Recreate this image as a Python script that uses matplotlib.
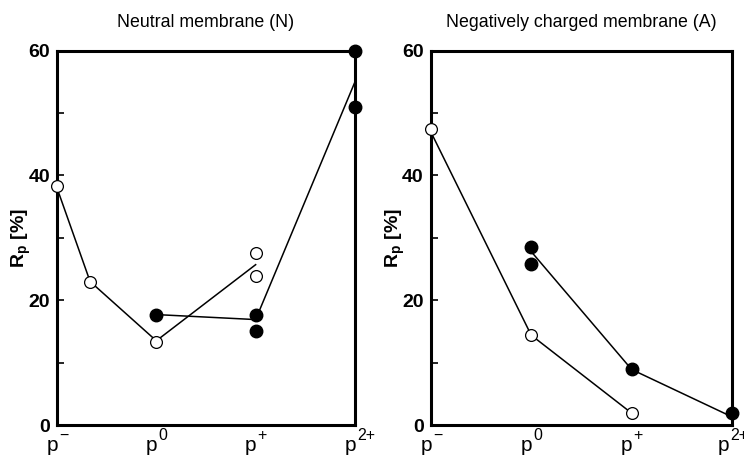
import matplotlib.pyplot as plt
import numpy as np

plt.rcParams['font.family'] = ['Liberation Sans', 'DejaVu Sans']
plt.rcParams['mathtext.fontset'] = 'custom'
plt.rcParams['mathtext.rm'] = 'Liberation Sans'
plt.rcParams['mathtext.it'] = 'Liberation Sans'
plt.rcParams['mathtext.bf'] = 'Liberation Sans:bold'

# species labels: base letter plus superscript charge
xtick_base = ['p', 'p', 'p', 'p']
xtick_sup = ['\u2212', '0', '+', '2+']

# Neutral membrane (N)
n_open_x = [0, 1/3, 1, 2, 2]
n_open_y = [38.3, 23.0, 13.3, 27.6, 23.9]
n_open_line_x = [0, 1/3, 1, 2]
n_open_line_y = [38.0, 23.0, 13.5, 25.7]
n_fill_x = [1, 2, 2, 3, 3]
n_fill_y = [17.7, 17.7, 15.1, 60.0, 50.9]
n_fill_line_x = [1, 2, 3]
n_fill_line_y = [17.7, 16.9, 55.0]

# Negatively charged membrane (A)
a_open_x = [0, 1, 2]
a_open_y = [47.4, 14.4, 1.9]
a_open_line_x = [0, 1, 2]
a_open_line_y = [47.0, 14.4, 1.9]
a_fill_x = [1, 1, 2, 3]
a_fill_y = [28.6, 25.8, 8.9, 1.9]
a_fill_line_x = [1, 2, 3]
a_fill_line_y = [27.8, 8.9, 1.3]

fig = plt.figure(figsize=(7.44, 4.65), dpi=100)
ax1 = fig.add_axes([0.0766, 0.086, 0.4005, 0.805])
ax2 = fig.add_axes([0.579, 0.086, 0.405, 0.805])


def draw_panel(ax, title, ox, oy, olx, oly, fx, fy, flx, fly, ylab_x,
               last_shift=0):
    ax.plot(olx, oly, color='black', lw=1.1, clip_on=False, zorder=2)
    ax.plot(flx, fly, color='black', lw=1.1, clip_on=False, zorder=2)
    ax.plot(ox, oy, 'o', ms=8.5, mfc='white', mec='black', mew=0.9,
            clip_on=False, zorder=3)
    ax.plot(fx, fy, 'o', ms=9, mfc='black', mec='black',
            clip_on=False, zorder=3)
    ax.set_xlim(0, 3)
    ax.set_ylim(0, 60)
    for s in ax.spines.values():
        s.set_linewidth(2.2)
    ax.set_yticks(np.arange(0, 61, 10))
    ax.set_yticklabels(['0', '', '20', '', '40', '', '60'],
                       fontsize=14, fontweight='bold')
    ax.tick_params(axis='y', direction='in', length=5, width=1.2, pad=5)
    ax.set_xticks([])
    # category labels on a common baseline under the axis
    trans = ax.get_xaxis_transform()
    for i, (b, s) in enumerate(zip(xtick_base, xtick_sup)):
        dx = last_shift if i == len(xtick_base) - 1 else 0
        ax.annotate(b, (i, -0.069), xycoords=trans, xytext=(1 + dx, 0),
                    textcoords='offset pixels', ha='right', va='baseline',
                    fontsize=15, annotation_clip=False)
        ax.annotate(s, (i, -0.069), xycoords=trans, xytext=(2 + dx, 11),
                    textcoords='offset pixels', ha='left', va='baseline',
                    fontsize=11.5, annotation_clip=False)
    ax.set_ylabel(r'$\mathbf{R_p}$ [%]', fontsize=14, fontweight='bold')
    ax.yaxis.set_label_coords(ylab_x, 0.5)
    ax.set_title(title, fontsize=12.8, pad=17)


draw_panel(ax1, 'Neutral membrane (N)', n_open_x, n_open_y,
           n_open_line_x, n_open_line_y, n_fill_x, n_fill_y,
           n_fill_line_x, n_fill_line_y, -0.08)
draw_panel(ax2, 'Negatively charged membrane (A)', a_open_x, a_open_y,
           a_open_line_x, a_open_line_y, a_fill_x, a_fill_y,
           a_fill_line_x, a_fill_line_y, -0.079, last_shift=-4)

fig.savefig('out.png', dpi=100)
